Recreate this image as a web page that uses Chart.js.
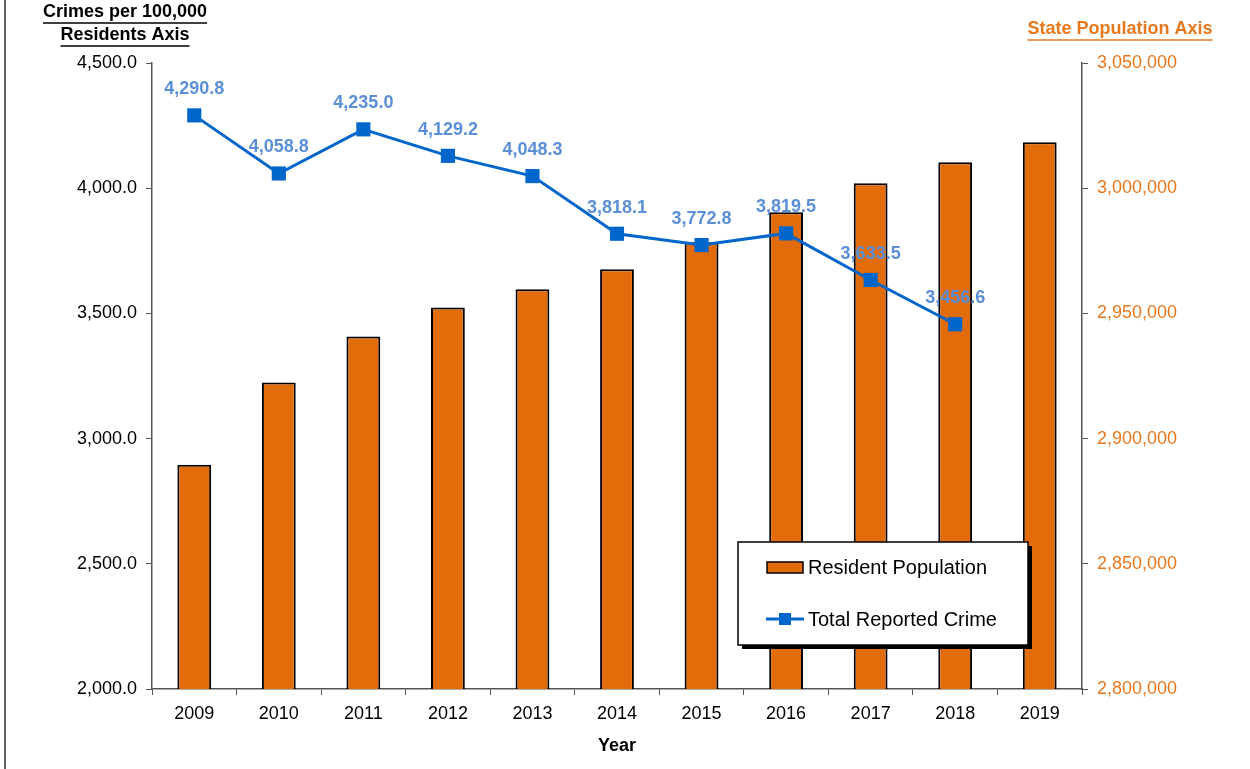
<!DOCTYPE html>
<html lang="en">
<head>
  <meta charset="UTF-8">
  <title>Crime Rate and State Population</title>
  <script src="https://cdn.jsdelivr.net/npm/chart.js"></script>
  <style>
    body {
      margin: 0;
      background: #fff;
    }
    .chart-box {
      width: 1250px;
      height: 769px;
    }
  </style>
</head>
<body>
  <div class="chart-box">
    <canvas id="crimeChart" width="1250" height="769"></canvas>
  </div>

  <script>
    // Chart data
    const years = ["2009", "2010", "2011", "2012", "2013", "2014", "2015", "2016", "2017", "2018", "2019"];
    const population = [2889600, 2922400, 2940800, 2952400, 2959600, 2967600, 2978400, 2990400, 3002000, 3010400, 3018400];
    const crimeRate = [4290.8, 4058.8, 4235.0, 4129.2, 4048.3, 3818.1, 3772.8, 3819.5, 3633.5, 3456.6, null];
    const seriesNames = ["Resident Population", "Total Reported Crime"];
    const leftAxisTitle = ["Crimes per 100,000", "Residents Axis"];
    const rightAxisTitle = "State Population Axis";

    const ORANGE = "#E36C0A";
    const ORANGE_TEXT = "#E8781E";
    const BLUE = "#0066CC";
    const LABEL_BLUE = "#5B8FD8";
    const AXIS = "#555555";
    const FONT = "'Liberation Sans', Arial, sans-serif";

    // text with an underline, centred on x
    function underlined(ctx, text, x, y, color) {
      ctx.fillStyle = color;
      ctx.fillText(text, x, y);
      const w = ctx.measureText(text).width;
      ctx.strokeStyle = color;
      ctx.lineWidth = 1.5;
      ctx.beginPath();
      ctx.moveTo(x - w / 2, y + 11);
      ctx.lineTo(x + w / 2, y + 11);
      ctx.stroke();
    }

    // titles, data labels, legend box and page border
    const extras = {
      id: "extras",
      afterDatasetsDraw(chart) {
        const ctx = chart.ctx;
        const meta = chart.getDatasetMeta(1);
        ctx.save();
        ctx.font = "bold 18px " + FONT;
        ctx.fillStyle = LABEL_BLUE;
        ctx.textAlign = "center";
        ctx.textBaseline = "middle";
        meta.data.forEach((pt, i) => {
          const v = crimeRate[i];
          if (v === null) return;
          ctx.fillText(v.toLocaleString("en-US", { minimumFractionDigits: 1 }), pt.x, pt.y - 26);
        });
        ctx.restore();
      },
      afterDraw(chart) {
        const ctx = chart.ctx;
        ctx.save();

        // left border line
        ctx.strokeStyle = "#333";
        ctx.lineWidth = 1.5;
        ctx.beginPath();
        ctx.moveTo(5, 0);
        ctx.lineTo(5, chart.height);
        ctx.stroke();

        // axis titles
        ctx.font = "bold 18px " + FONT;
        ctx.textAlign = "center";
        ctx.textBaseline = "middle";
        underlined(ctx, leftAxisTitle[0], 125, 12, "#000");
        underlined(ctx, leftAxisTitle[1], 125, 35, "#000");
        underlined(ctx, rightAxisTitle, 1120, 29, ORANGE_TEXT);

        // legend box
        const bx = 738, by = 542, bw = 290, bh = 103;
        ctx.fillStyle = "#000";
        ctx.fillRect(bx + 4, by + 4, bw, bh);
        ctx.fillStyle = "#fff";
        ctx.fillRect(bx, by, bw, bh);
        ctx.strokeStyle = "#000";
        ctx.lineWidth = 1.5;
        ctx.strokeRect(bx, by, bw, bh);

        // bar swatch
        ctx.fillStyle = ORANGE;
        ctx.fillRect(767, 562, 36, 11);
        ctx.lineWidth = 1.5;
        ctx.strokeRect(767, 562, 36, 11);

        // line swatch
        ctx.strokeStyle = BLUE;
        ctx.lineWidth = 3;
        ctx.beginPath();
        ctx.moveTo(766, 619);
        ctx.lineTo(804, 619);
        ctx.stroke();
        ctx.fillStyle = BLUE;
        ctx.fillRect(779, 613, 12, 12);

        ctx.font = "20px " + FONT;
        ctx.fillStyle = "#000";
        ctx.textAlign = "left";
        ctx.fillText(seriesNames[0], 808, 568);
        ctx.fillText(seriesNames[1], 808, 620);
        ctx.restore();
      }
    };

    const tickFont = { family: FONT, size: 18 };

    const chart = new Chart(document.getElementById("crimeChart"), {
      data: {
        labels: years,
        datasets: [{
          type: "bar",
          label: seriesNames[0],
          data: population,
          yAxisID: "y2",
          backgroundColor: ORANGE,
          borderColor: "#000",
          borderWidth: 2,
          categoryPercentage: 1,
          barPercentage: 0.4,
          order: 1
        }, {
          type: "line",
          label: seriesNames[1],
          data: crimeRate,
          yAxisID: "y",
          borderColor: BLUE,
          backgroundColor: BLUE,
          borderWidth: 3,
          pointStyle: "rect",
          pointRadius: 10,
          pointBorderWidth: 0,
          spanGaps: false,
          order: 0
        }]
      },
      options: {
        responsive: false,
        animation: false,
        layout: { padding: { top: 63, left: 0, right: 0, bottom: 0 } },
        plugins: {
          legend: { display: false },
          tooltip: { enabled: false }
        },
        scales: {
          x: {
            offset: true,
            grid: { display: true, drawOnChartArea: false, offset: true, tickLength: 6, color: AXIS },
            border: { color: AXIS, width: 1.5 },
            ticks: { color: "#000", font: tickFont, padding: 8 },
            title: { display: true, text: "Year", color: "#000", font: { family: FONT, size: 18, weight: "bold" }, padding: { top: 0, bottom: 12 } },
            afterFit(scale) { scale.height = 80; }
          },
          y: {
            position: "left",
            min: 2000,
            max: 4500,
            ticks: {
              stepSize: 500,
              color: "#000",
              font: tickFont,
              padding: 9,
              callback: v => v.toLocaleString("en-US", { minimumFractionDigits: 1 })
            },
            grid: { drawOnChartArea: false, tickLength: 6, color: AXIS },
            border: { color: AXIS, width: 1.5 },
            afterFit(scale) { scale.width = 152; }
          },
          y2: {
            position: "right",
            min: 2800000,
            max: 3050000,
            ticks: {
              stepSize: 50000,
              color: ORANGE_TEXT,
              font: tickFont,
              padding: 9,
              callback: v => v.toLocaleString("en-US")
            },
            grid: { drawOnChartArea: false, tickLength: 6, color: AXIS },
            border: { color: AXIS, width: 1.5 },
            afterFit(scale) { scale.width = 168; }
          }
        }
      },
      plugins: [extras]
    });
  </script>
</body>
</html>
